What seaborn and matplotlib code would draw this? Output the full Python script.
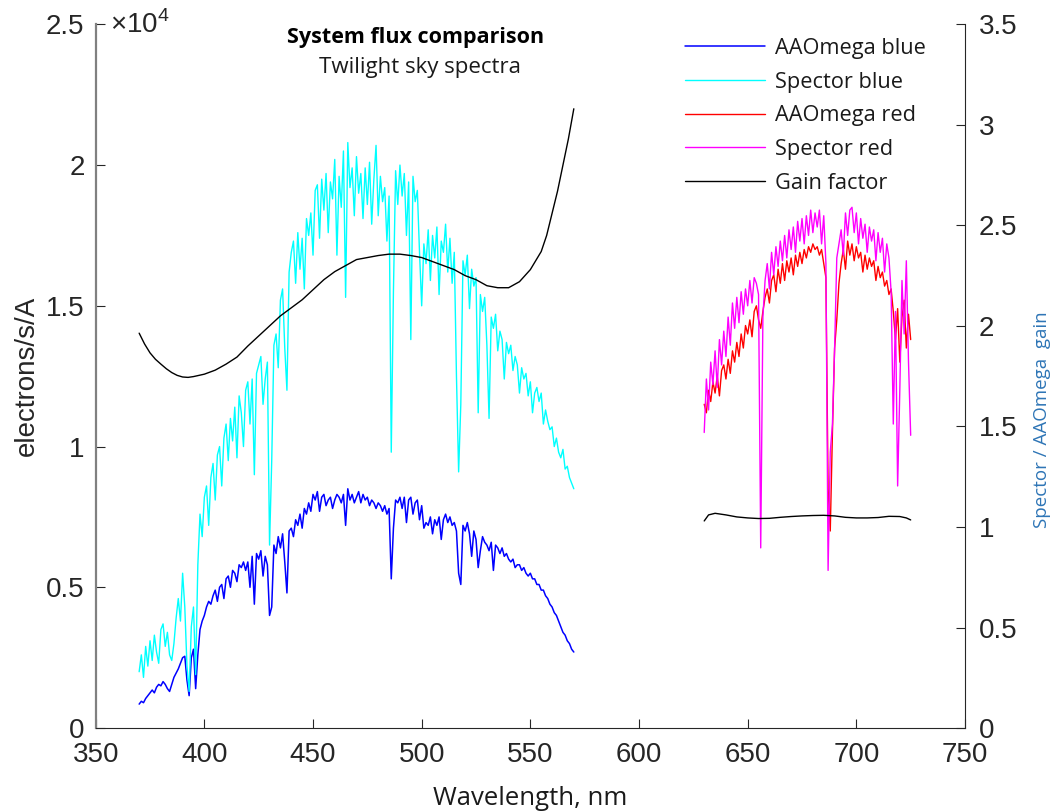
import numpy as np
import pandas as pd
import seaborn as sns
import matplotlib.pyplot as plt

# wavelength grids (nm)
blue_wl = np.arange(370, 571)
red_wl = np.arange(630, 726)

# AAOmega blue arm, electrons/s/A
aao_blue = [
    850, 950, 900, 1050, 1150, 1250, 1350, 1250, 1450, 1550,
    1500, 1650, 1550, 1400, 1300, 1550, 1800, 1950, 2100, 2300,
    2500, 2550, 1700, 1150, 2500, 2800, 1400, 2600, 3500, 3800,
    4000, 4300, 4500, 4400, 4700, 4900, 4500, 5000, 5100, 4600,
    5300, 5400, 5000, 5600, 5500, 5200, 5800, 5700, 5900, 5600,
    5900, 5000, 6100, 4400, 6200, 6000, 6300, 5400, 6100, 5800,
    4000, 4300, 6500, 6200, 6800, 6400, 6900, 5900, 4800, 7000,
    7100, 6800, 7400, 7200, 7600, 7100, 7800, 7600, 8000, 7700,
    8300, 8100, 8400, 7700, 8200, 8300, 7900, 8100, 8200, 7800,
    8100, 8300, 8200, 8000, 8300, 7200, 8500, 8100, 8300, 8000,
    8200, 8400, 8000, 8300, 8100, 8200, 7900, 8100, 8000, 7800,
    8000, 7900, 7700, 7900, 7600, 7800, 5300, 7100, 8100, 8000,
    8200, 7800, 8200, 7300, 8100, 8200, 7600, 8000, 8100, 7400,
    7900, 7100, 7300, 7200, 7500, 6900, 7400, 7200, 7500, 6700,
    7400, 7600, 7300, 7500, 7200, 7300, 7000, 5500, 5100, 7200,
    7000, 7300, 6900, 6100, 7000, 6700, 5700, 6300, 6800, 6600,
    6500, 6300, 6600, 5600, 6500, 6400, 6200, 6400, 6100, 6200,
    6000, 5900, 6000, 5700, 5800, 5800, 5600, 5700, 5500, 5400,
    5500, 5300, 5300, 5100, 5100, 4900, 4900, 4700, 4600, 4400,
    4300, 4100, 4000, 3800, 3600, 3400, 3300, 3100, 3000, 2800,
    2700,
]

# Spector blue arm
spector_blue = [
    2000, 2600, 1800, 2900, 2200, 3100, 2400, 3300, 2700, 2300,
    3500, 3700, 2900, 3400, 2600, 2400, 3000, 3900, 4600, 3800,
    5500, 4300, 2200, 1300, 3600, 4300, 1900, 5800, 7600, 6800,
    8200, 8600, 7200, 8900, 9400, 8100, 9700, 10000, 8600, 10300,
    10800, 9500, 11000, 10200, 11400, 9600, 11800, 11200, 10000, 12000,
    12300, 10800, 12400, 9000, 12600, 12900, 13200, 11500, 12400, 13000,
    6500, 9500, 13600, 14000, 12800, 15200, 15600, 13500, 12000, 16200,
    16900, 17300, 15800, 17600, 16300, 17400, 15600, 18100, 17500, 18300,
    16800, 19100, 19300, 17400, 19500, 18400, 19700, 17600, 19400, 18800,
    20200, 16800, 19600, 18500, 20500, 15300, 20800, 19200, 19900, 18200,
    20300, 19000, 19700, 18100, 19900, 18600, 20100, 17900, 19500, 20700,
    18200, 19600, 18700, 19200, 17300, 18900, 9800, 15500, 19800, 18600,
    20000, 18900, 19700, 17500, 19400, 13800, 19600, 18700, 19100, 16900,
    15000, 17200, 16500, 17700, 15900, 17500, 16700, 17800, 15400, 17300,
    16900, 17900, 16200, 17400, 15800, 16900, 12500, 9100, 11500, 16600,
    16100, 16800, 14900, 16300, 15700, 16000, 11200, 15400, 14800, 15300,
    13600, 11000, 14600, 14200, 14700, 13400, 14100, 13800, 12400, 13700,
    13300, 13600, 12700, 13200, 12900, 11900, 12800, 12400, 12600, 11800,
    12300, 11200, 11900, 12100, 11600, 11900, 10800, 11300, 10900, 10600,
    10700, 10000, 10300, 9800, 9600, 9900, 9200, 9300, 8900, 8700,
    8500,
]

# AAOmega red arm
aao_red = [
    11500, 11200, 12000, 11600, 12300, 11900, 12500, 11800, 12700, 12900,
    12400, 13100, 12600, 13400, 13000, 13700, 13200, 14000, 13500, 14300,
    14000, 14500, 13900, 14800, 15000, 14500, 14200, 14800, 15300, 15600,
    15100, 15900, 16100, 15500, 16300, 15800, 16500, 15900, 16600, 16200,
    16700, 16100, 16800, 16400, 16900, 16500, 17000, 16700, 17100, 16900,
    17200, 17000, 17100, 16800, 17000, 16500, 16000, 8500, 7000, 10500,
    13500, 14500, 15800, 16500, 17000, 16300, 17300, 16800, 17200, 16600,
    17100, 16700, 16900, 16200, 16800, 16300, 16700, 16400, 16600, 15900,
    16400, 16000, 16200, 15700, 15900, 15400, 15600, 14800, 13800, 14900,
    13000, 14600, 15200, 13500, 14700, 13800,
]

# Spector red arm
spector_red = [
    10500, 12400, 11300, 13000, 12200, 13400, 12100, 13800, 12900, 14100,
    13200, 14600, 13600, 15100, 14200, 15300, 14400, 15500, 14700, 15600,
    15000, 15900, 15100, 16000, 15800, 15400, 6400, 14600, 15900, 16500,
    15600, 16900, 16100, 17100, 16400, 17300, 16600, 17500, 16700, 17700,
    17000, 17800, 16900, 18000, 17300, 18100, 17200, 18200, 17500, 18400,
    17600, 18300, 17800, 18400, 17200, 18200, 16500, 5600, 9800, 10800,
    13500, 16700, 17200, 17700, 16800, 18300, 17500, 18400, 18500, 17600,
    18300, 17200, 18100, 17400, 17900, 16900, 17800, 17300, 17700, 16600,
    17600, 16900, 17400, 16200, 17200, 16700, 15500, 10800, 14800, 8600,
    12000, 15900, 14000, 16600, 13000, 10400,
]

# Spector / AAOmega gain factor (right axis)
gain_blue_wl = [370, 372.5, 375, 377.5, 380, 382.5, 385, 387.5, 390, 392.5,
                395, 400, 405, 410, 415, 420, 425, 430, 435, 440, 445, 450,
                455, 460, 465, 470, 475, 480, 485, 490, 495, 500, 505, 510,
                515, 520, 525, 530, 535, 540, 545, 550, 555, 557.5, 560,
                562.5, 565, 567.5, 570]
gain_blue = [1.964, 1.91, 1.866, 1.834, 1.81, 1.787, 1.768, 1.754, 1.746,
             1.744, 1.748, 1.76, 1.78, 1.81, 1.845, 1.90, 1.95, 2.00, 2.05,
             2.09, 2.13, 2.18, 2.23, 2.27, 2.30, 2.33, 2.34, 2.35, 2.357,
             2.357, 2.35, 2.34, 2.32, 2.30, 2.28, 2.25, 2.23, 2.20, 2.19,
             2.19, 2.22, 2.28, 2.37, 2.45, 2.56, 2.67, 2.80, 2.93, 3.08]
gain_red_wl = [630, 632, 635, 640, 645, 650, 655, 660, 665, 670, 675, 680,
               685, 690, 695, 700, 705, 710, 715, 720, 723, 725]
gain_red = [1.03, 1.06, 1.068, 1.06, 1.05, 1.045, 1.042, 1.043, 1.048, 1.052,
            1.055, 1.057, 1.058, 1.055, 1.048, 1.045, 1.045, 1.047, 1.053,
            1.052, 1.045, 1.035]

blue_df = pd.DataFrame({"wl": blue_wl, "aao": aao_blue, "spector": spector_blue})
red_df = pd.DataFrame({"wl": red_wl, "aao": aao_red, "spector": spector_red})

sns.set_style("ticks")
plt.rcParams["font.family"] = ["Liberation Sans", "DejaVu Sans"]
plt.rcParams["mathtext.fontset"] = "custom"
plt.rcParams["mathtext.rm"] = "Liberation Sans"

fig = plt.figure(figsize=(10.55, 8.11), dpi=100)
ax = fig.add_axes([0.0907, 0.1023, 0.824, 0.8677])
ax2 = ax.twinx()

sns.lineplot(data=blue_df, x="wl", y="aao", ax=ax, color="#0000ff", lw=1.1, label="AAOmega blue")
sns.lineplot(data=blue_df, x="wl", y="spector", ax=ax, color="#00ffff", lw=1.0, label="Spector blue")
sns.lineplot(data=red_df, x="wl", y="aao", ax=ax, color="#ff0000", lw=1.0, label="AAOmega red")
sns.lineplot(data=red_df, x="wl", y="spector", ax=ax, color="#ff00ff", lw=1.0, label="Spector red")
sns.lineplot(x=gain_blue_wl, y=gain_blue, ax=ax2, color="black", lw=1.0, label="Gain factor")
sns.lineplot(x=gain_red_wl, y=gain_red, ax=ax2, color="black", lw=1.0)

for a in (ax, ax2):
    if a.get_legend() is not None:
        a.get_legend().remove()

ax.set_xlim(350, 750)
ax.set_ylim(0, 25000)
ax2.set_ylim(0, 3.5)
ax.set_xticks(range(350, 751, 50))
ax.set_yticks([0, 5000, 10000, 15000, 20000, 25000])
ax.set_yticklabels(["0", "0.5", "1", "1.5", "2", "2.5"])
ax2.set_yticks([0, 0.5, 1, 1.5, 2, 2.5, 3, 3.5])
ax2.set_yticklabels(["0", "0.5", "1", "1.5", "2", "2.5", "3", "3.5"])

for a in (ax, ax2):
    a.spines["top"].set_visible(False)
    a.tick_params(direction="in", length=6.5, labelsize=20, colors="#262626")
ax.tick_params(axis="x", pad=10)
ax.tick_params(axis="y", pad=8)
ax2.tick_params(axis="y", pad=10)
ax.spines["left"].set_color("#808080")
ax.spines["left"].set_linewidth(1.6)
ax.spines["right"].set_visible(False)
ax2.spines["left"].set_visible(False)
ax2.spines["bottom"].set_visible(False)
ax.spines["bottom"].set_color("#262626")
ax2.spines["right"].set_color("#262626")

ax.set_xlabel("Wavelength, nm", fontsize=18.5, family="Open Sans", color="#1a1a1a")
ax.xaxis.set_label_coords(0.5, -0.082)
ax.set_ylabel("electrons/s/A", fontsize=20, color="#262626")
ax.yaxis.set_label_coords(-0.064, 0.5)
ax2.set_ylabel("")
fig.text(1042 / 1055, 1 - 420 / 811, "Spector / AAOmega  gain", rotation=90,
         ha="center", va="center", fontsize=13.5, family="Open Sans", color="#2e75b6")

ax.text(0.017, 1.0, r"$\times10^4$", transform=ax.transAxes, fontsize=20,
        ha="left", va="center", color="#262626")

fig.text(416 / 1055, 1 - 37 / 811, "System flux comparison", ha="center", va="center",
         fontsize=15.5, fontweight="bold", family="Open Sans", color="black")
fig.text(420 / 1055, 1 - 68 / 811, "Twilight sky spectra", ha="center", va="center",
         fontsize=16, family="Open Sans", color="#1a1a1a")

h1, l1 = ax.get_legend_handles_labels()
h2, l2 = ax2.get_legend_handles_labels()
leg = ax2.legend(h1 + h2, l1 + l2, loc="upper left",
                 bbox_to_anchor=(685 / 1055, 1 - 38 / 811), bbox_transform=fig.transFigure,
                 frameon=False, fontsize=15.7, handlelength=3.67, handletextpad=0.46,
                 labelspacing=0.58, borderpad=0, borderaxespad=0)
for t in leg.get_texts():
    t.set_family("Open Sans")
    t.set_color("#1a1a1a")

fig.savefig("out.png", dpi=100)
plt.close(fig)
